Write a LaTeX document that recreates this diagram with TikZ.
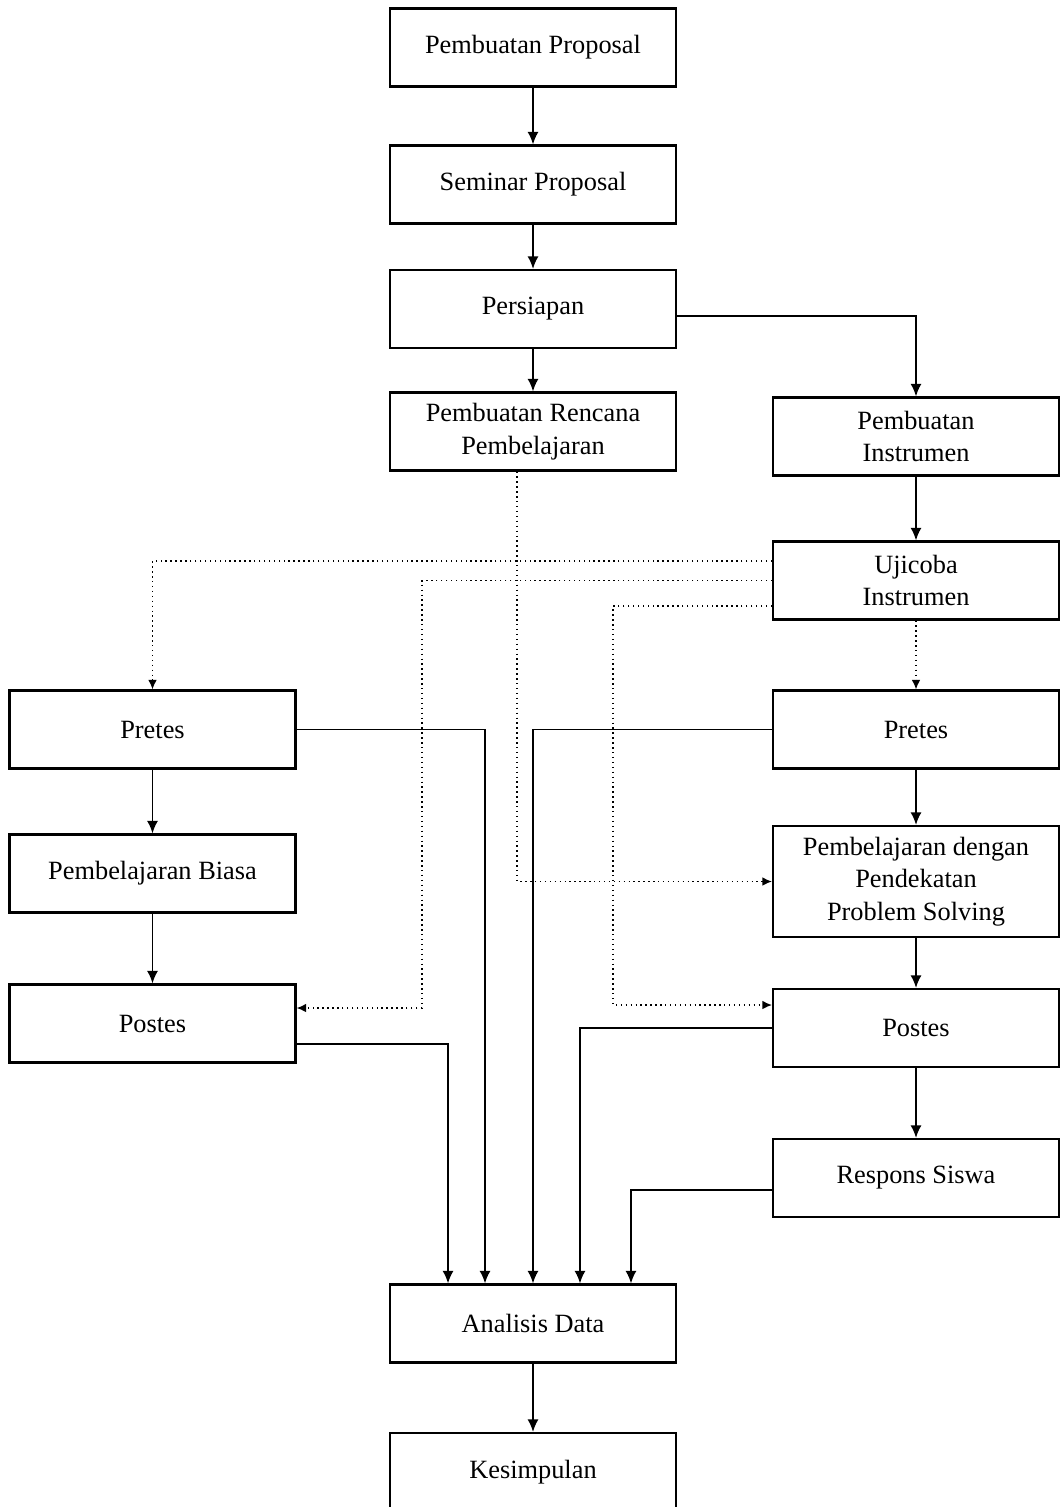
\documentclass[tikz,border=0pt]{standalone}
\usepackage{fontspec}
\setmainfont{Liberation Serif}
\usetikzlibrary{arrows.meta}
\tikzset{alurbox/.style={draw,line width=1.2pt,minimum width=5.72cm,minimum height=1.56cm,
 align=center,inner sep=2pt,font=\fontsize{15}{18.5}\selectfont},
 alurarr/.style={-{Latex[length=2.5mm,width=2.2mm]},line width=1.1pt},
 alurdot/.style={-{Latex[length=1.9mm,width=1.7mm]},dotted,line width=0.8pt}}

\begin{document}
\begin{tikzpicture}[x=0.02cm,y=-0.02cm]
\useasboundingbox (0,0) rectangle (1059,1507);
% middle column
\node[alurbox] (prop) at (533,47.5) {Pembuatan Proposal};
\node[alurbox] (sem) at (533,184.5) {Seminar Proposal};
\node[alurbox] (pers) at (533,309) {Persiapan};
\node[alurbox] (renc) at (533,431.5) {Pembuatan Rencana\\Pembelajaran};
\node[alurbox] (anal) at (533,1323.5) {Analisis Data};
\node[alurbox] (kes) at (533,1472) {Kesimpulan};
% right column
\node[alurbox] (instr) at (916,436.5) {Pembuatan\\Instrumen};
\node[alurbox] (uji) at (916,580.5) {Ujicoba\\Instrumen};
\node[alurbox] (pretR) at (916,729.5) {Pretes};
\node[alurbox,minimum height=2.22cm] (ps) at (916,881.5) {Pembelajaran dengan\\Pendekatan\\Problem Solving};
\node[alurbox] (postR) at (916,1028) {Postes};
\node[alurbox] (resp) at (916,1178) {Respons Siswa};
% left column
\node[alurbox] (pretL) at (152.5,729.5) {Pretes};
\node[alurbox] (biasa) at (152.5,873.5) {Pembelajaran Biasa};
\node[alurbox] (postL) at (152.5,1023.5) {Postes};
\coordinate (kL) at (422,1008);
\coordinate (kR) at (613,1005);

\draw[alurarr] (prop)--(sem);
\draw[alurarr] (sem)--(pers);
\draw[alurarr] (pers)--(renc);
\draw[alurarr] ([yshift=-0.14cm]pers.east) -| (instr.north);
\draw[alurarr] (instr)--(uji);
\draw[alurarr] (pretL)--(biasa);
\draw[alurarr] (biasa)--(postL);
\draw[alurarr] (pretR)--(ps);
\draw[alurarr] (ps)--(postR);
\draw[alurarr] (postR)--(resp);
\draw[alurarr] (anal)--(kes);
% dotted links
\draw[alurdot] (uji)--(pretR);
\draw[alurdot] ([yshift=0.39cm]uji.west) -| (pretL.north);
\draw[alurdot] (uji.west) -| (kL) -- (kL -| postL.east);
\draw[alurdot] ([yshift=-0.51cm]uji.west) -| (kR) -- (kR -| postR.west);
\draw[alurdot] ([xshift=-0.32cm]renc.south) |- (ps.west);
% into analisis
\draw[alurarr] ([yshift=-0.41cm]postL.east) -| ([xshift=-1.7cm]anal.north);
\draw[alurarr] (pretL.east) -| ([xshift=-0.96cm]anal.north);
\draw[alurarr] (pretR.west) -| (anal.north);
\draw[alurarr] (postR.west) -| ([xshift=0.94cm]anal.north);
\draw[alurarr] ([yshift=-0.24cm]resp.west) -| ([xshift=1.96cm]anal.north);
\end{tikzpicture}
\end{document}
